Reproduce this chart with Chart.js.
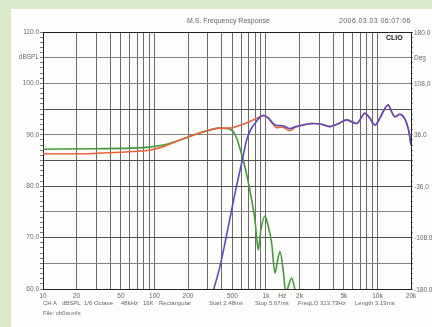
<!DOCTYPE html>
<html><head><meta charset="utf-8">
<script src="https://cdn.jsdelivr.net/npm/chart.js@4"></script>
<style>
html,body{margin:0;padding:0;}
body{width:432px;height:327px;background:#dae8ca;position:relative;overflow:hidden;font-family:"Liberation Sans",Arial,sans-serif;}
#panel{position:absolute;left:11px;top:9px;width:421px;height:318px;background:#fdfdfb;}
#wrap{position:absolute;left:0;top:0;width:421px;height:318px;}
.t{position:absolute;font-size:7px;color:#666;white-space:pre;line-height:1;}
.s{position:absolute;font-size:6px;color:#666;white-space:pre;line-height:1;}
.r{position:absolute;font-size:6.5px;color:#666;white-space:pre;line-height:7px;height:7px;}
</style></head><body>
<div id="panel"><div id="wrap"><canvas id="c"></canvas></div></div>
<div class="t" style="left:187px;top:17px">M.S. Frequency Response</div>
<div class="t" style="left:339px;top:17px;letter-spacing:0.4px">2006.03.03 06:07:06</div>
<div class="t" style="left:386px;top:34px;font-weight:bold;color:#222">CLIO</div>
<div class="s" style="left:43px;top:300px">CH A</div>
<div class="s" style="left:62px;top:300px">dBSPL</div>
<div class="s" style="left:84px;top:300px">1/6 Octave</div>
<div class="s" style="left:121px;top:300px">48kHz</div>
<div class="s" style="left:143px;top:300px">16K</div>
<div class="s" style="left:159px;top:300px">Rectangular</div>
<div class="s" style="left:209px;top:300px">Start 2.48ms</div>
<div class="s" style="left:255px;top:300px">Stop 5.67ms</div>
<div class="s" style="left:298px;top:300px">FreqLO 313.73Hz</div>
<div class="s" style="left:355px;top:300px">Length 3.19ms</div>
<div class="s" style="left:43px;top:310px">File: cb0w.mls</div>
<script>
// ---- data ----
const redFreq = [10,20,30,50,70,90,120,169,250,320,386,475,560,650,719,850,946,1050,1150,1247,1350,1450,1641,1850,2150,2630,3200,3750,4500,5300,6500,7730,8500,9500,10500,11300,12500,13400,14350,15900,17000,18300,19200,20000];
const redDb   = [86.3,86.3,86.4,86.6,86.8,87.0,87.7,89.0,90.3,91.0,91.3,91.3,91.7,92.2,92.6,93.3,93.7,93.2,92.1,91.4,91.5,91.4,90.8,91.5,91.9,92.2,92.0,91.6,92.2,92.9,92.2,94.2,93.3,91.9,93.2,94.6,95.8,94.5,93.5,94.0,93.6,92.2,90.5,88.0];

const greenFreq = [10,30,60,90,120,169,250,320,386,460,510,550,590,626,671,745,797,830,853,900,979,1040,1125,1205,1270,1336,1420,1511,1600,1698,1780,1870];
const greenDb   = [87.2,87.3,87.4,87.6,88.0,89.0,90.3,91.0,91.3,91.2,90.6,89.2,87.0,85.0,82.3,77.3,73.4,69.5,67.6,71.5,74.2,72.5,68.9,63.1,65.5,67.3,64.0,59.3,60.8,62.1,60.8,58.5];

const blueFreq = [335,386,459,527,605,671,730,797,870,946,1050,1150,1247,1350,1450,1641,1850,2150,2630,3200,3750,4500,5300,6500,7730,8500,9500,10500,11300,12500,13400,14350,15900,17000,18300,19200,20000];
const blueDb   = [59.5,64.3,72.1,78.6,84.5,89.0,91.0,92.2,93.3,93.8,93.3,92.3,91.8,91.8,91.7,91.2,91.6,91.9,92.2,92.0,91.6,92.2,92.9,92.2,94.2,93.3,91.9,93.2,94.6,95.8,94.5,93.5,94.0,93.6,92.2,90.5,88.0];

const xGridFreqs = [10,20,30,40,50,60,70,80,90,100,200,300,400,500,600,700,800,900,1000,1400,2000,3000,4000,5000,6000,7000,8000,9000,10000,20000];
const xTickValues = [10,20,50,100,200,500,1000,1400,2000,5000,10000,20000];
const xTickLabels = ['10','20','50','100','200','500','1k','Hz','2k','5k','10k','20k'];

const leftTickValues = [110,105,100,90,80,70,60];
const leftTickLabels = ['110.0','dBSPL','100.0','90.0','80.0','70.0','60.0'];
const rightTickValues = [180,144,108,36,-36,-108,-180];
const rightTickLabels = ['180.0','Deg','108.0','36.0','-36.0','-108.0','-180.0'];

const pts = (f, d) => f.map((x, i) => ({x, y: d[i]}));
const lab = (vals, labels, v) => { const i = vals.findIndex(t => Math.abs(t - v) < 0.05); return i < 0 ? '' : labels[i]; };

const font = {family: '"Liberation Sans", Arial, sans-serif', size: 6.5};

const chart = new Chart(document.getElementById('c'), {
  type: 'scatter',
  data: {
    datasets: [
      {data: pts(blueFreq, blueDb), borderColor: '#5a4cbc', order: 0},
      {data: pts(redFreq, redDb), borderColor: '#e8653c', order: 1},
      {data: pts(greenFreq, greenDb), borderColor: '#46993a', order: 2}
    ].map(d => Object.assign(d, {showLine: true, pointRadius: 0, borderWidth: 1.6, cubicInterpolationMode: 'monotone', yAxisID: 'y'}))
  },
  options: {
    responsive: true, maintainAspectRatio: false, animation: false,
    layout: {padding: {top: 23, left: 0, right: 0, bottom: 0}},
    plugins: {legend: {display: false}, tooltip: {enabled: false}, title: {display: false}},
    scales: {
      x: {
        type: 'logarithmic', min: 10, max: 20000,
        afterBuildTicks: s => { s.ticks = xGridFreqs.map(v => ({value: v})); },
        afterFit: s => { s.height = 38; },
        ticks: {autoSkip: false, maxRotation: 0, padding: 3, font, color: '#666',
          callback: v => lab(xTickValues, xTickLabels, v)},
        grid: {drawTicks: false, color: c => {
          const v = c.tick && c.tick.value;
          if (v === 1400) return 'rgba(0,0,0,0)';
          if (v === 10 || v === 20000) return '#222';
          return '#6a6a6a';
        }, lineWidth: 1},
        border: {color: '#222', width: 1}
      },
      y: {
        position: 'left', min: 60, max: 110,
        afterBuildTicks: s => { const t = []; for (let v = 60; v <= 110; v++) t.push({value: v}); s.ticks = t; },
        afterFit: s => { s.width = 32; },
        ticks: {autoSkip: false, padding: 1, font, color: '#666',
          callback: v => lab(leftTickValues, leftTickLabels, v)},
        grid: {tickLength: 3, tickColor: '#777', color: c => {
          const v = c.tick && c.tick.value;
          if (v === 110 || v === 60) return '#222';
          if (v % 5 !== 0) return 'rgba(0,0,0,0)';
          return (v === 95 || v === 85 || v === 80 || v === 70) ? '#505050' : '#808080';
        }},
        border: {color: '#222', width: 1}
      },
      y2: {
        position: 'right', min: -180, max: 180,
        afterBuildTicks: s => { const t = []; for (let i = 0; i <= 50; i++) t.push({value: Math.round((-180 + i * 7.2) * 10) / 10}); s.ticks = t; },
        afterFit: s => { s.width = 21; },
        ticks: {autoSkip: false, padding: 1, font, color: 'rgba(0,0,0,0)', callback: () => ''},
        grid: {drawOnChartArea: false, tickLength: 2, tickColor: '#888'},
        border: {color: '#222', width: 1}
      }
    }
  }
});

// right-axis labels placed from the chart's own y2 scale
const y2 = chart.scales.y2;
const offX = 11, offY = 9;
rightTickValues.forEach(v => {
  const d = document.createElement('div');
  d.className = 'r';
  d.textContent = lab(rightTickValues, rightTickLabels, v);
  d.style.left = (offX + y2.left + 3) + 'px';
  d.style.top = (offY + y2.getPixelForValue(v) - 3.5) + 'px';
  document.body.appendChild(d);
});
</script>
</body></html>
